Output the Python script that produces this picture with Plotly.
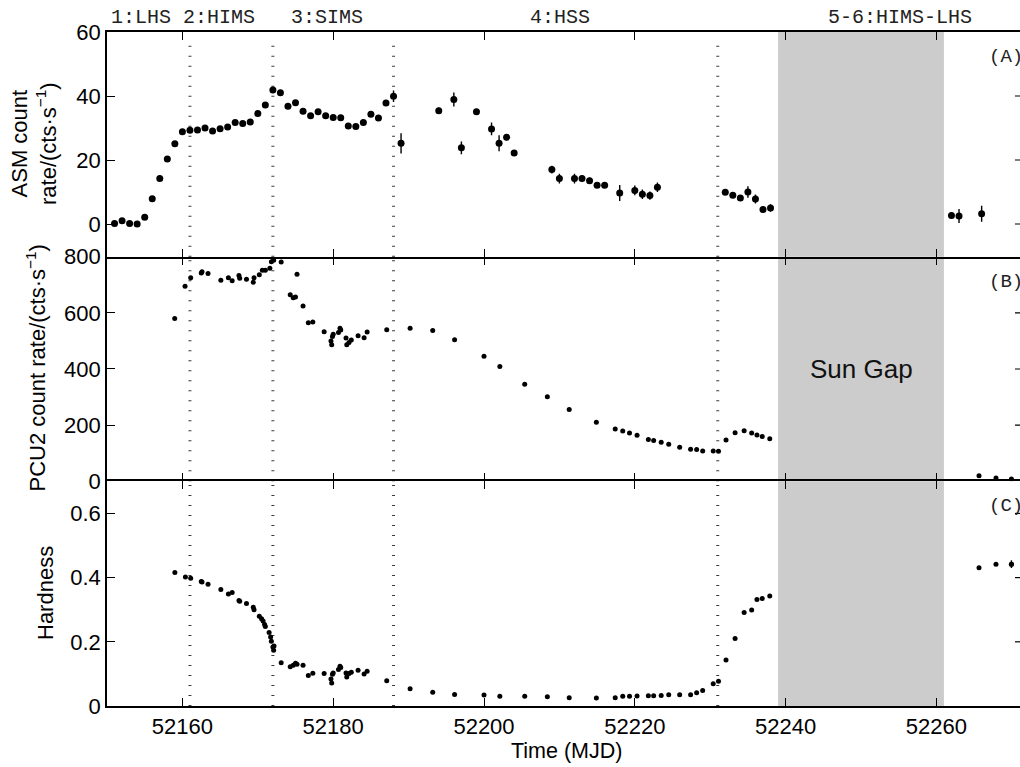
import plotly.graph_objects as go

# ---------------- data ----------------
transitions = [52161, 52172, 52188, 52231]
sun_gap = [52239, 52261]
state_labels = ["1:LHS", "2:HIMS", "3:SIMS", "4:HSS", "5-6:HIMS-LHS"]
x_ticks = [52160, 52180, 52200, 52220, 52240, 52260]

asm_mjd = [52151, 52152, 52153, 52154, 52155, 52156, 52157, 52158, 52159,
           52160, 52161, 52162, 52163, 52164, 52165, 52166, 52167, 52168, 52169,
           52170, 52171, 52172, 52173, 52174, 52175, 52176, 52177, 52178, 52179,
           52180, 52181, 52182, 52183, 52184, 52185, 52186, 52187, 52188, 52189,
           52194, 52196, 52197, 52199, 52201, 52202, 52203, 52204,
           52209, 52210, 52212, 52213, 52214, 52215, 52216,
           52218, 52220, 52221, 52222, 52223,
           52232, 52233, 52234, 52235, 52236, 52237, 52238,
           52262, 52263, 52266]
asm_rate = [0.2, 1.0, 0.2, 0.0, 2.1, 7.9, 14.2, 20.3, 25.1,
            28.8, 29.3, 29.4, 30.0, 29.1, 29.8, 30.3, 31.7, 31.4, 31.9,
            34.5, 37.2, 41.9, 41.0, 36.8, 37.9, 35.2, 33.8, 35.1, 33.8,
            33.3, 33.2, 30.6, 30.5, 31.7, 34.3, 33.1, 37.8, 39.9, 25.2,
            35.4, 38.9, 23.8, 35.1, 29.7, 25.2, 27.1, 22.2,
            17.0, 14.2, 14.2, 14.2, 13.5, 12.1, 12.1,
            9.7, 10.5, 9.3, 8.9, 11.5,
            9.9, 9.0, 8.1, 10.0, 7.8, 4.5, 5.0,
            2.7, 2.5, 3.2]
asm_err = [0.6, 0.6, 0.6, 0.6, 0.6, 0.7, 0.7, 0.7, 0.7,
           0.7, 0.7, 0.7, 0.7, 0.7, 0.7, 0.7, 0.7, 0.7, 0.7,
           0.7, 0.7, 0.8, 0.7, 0.7, 0.7, 0.7, 0.7, 0.7, 0.7,
           0.7, 0.7, 0.7, 0.7, 0.7, 0.8, 0.8, 0.8, 1.8, 3.2,
           1.0, 2.2, 2.0, 0.8, 2.0, 2.5, 1.0, 0.8,
           1.2, 1.5, 1.5, 1.0, 1.0, 0.8, 0.8,
           2.5, 1.5, 1.5, 1.3, 1.5,
           0.8, 0.8, 0.8, 1.8, 1.4, 1.0, 1.2,
           1.0, 2.2, 2.5]

pcu_mjd = [52158.98, 52160.35, 52161.1, 52162.5, 52162.6, 52163.4, 52165.1, 52166.1,
           52166.6, 52167.5, 52167.6, 52168.5, 52169.4, 52169.5, 52170.2, 52170.6,
           52171.0, 52171.6, 52171.8, 52172.1, 52173.1, 52174.3, 52174.7, 52175.0,
           52175.2, 52176.0, 52176.7, 52177.3, 52178.8, 52179.7, 52179.8, 52179.9,
           52180.0, 52180.7, 52180.9, 52181.0, 52181.7, 52181.8, 52182.1, 52182.4,
           52183.3, 52184.1, 52184.5, 52187.1, 52190.2, 52193.2, 52196.1, 52200.0,
           52202.1, 52205.4, 52208.4, 52211.3, 52214.9, 52217.4, 52218.4, 52219.3,
           52220.3, 52221.8, 52222.5, 52223.5, 52224.5, 52225.95, 52227.4, 52228.2,
           52229.0, 52230.4, 52231.1, 52232.1, 52233.3, 52234.5, 52235.5, 52236.2,
           52236.9, 52237.9, 52265.65, 52267.9, 52269.95]
pcu_rate = [580, 695, 725, 742, 746, 740, 716, 725,
            714, 733, 723, 720, 709, 725, 736, 752,
            752, 759, 782, 787, 781, 664, 654, 656,
            737, 624, 565, 567, 533, 500, 486, 516,
            524, 530, 545, 539, 510, 486, 494, 503,
            518, 511, 532, 540, 545, 537, 504, 445,
            409, 346, 301, 256, 210, 186, 179, 172,
            164, 149, 145, 139, 132, 121, 114, 113,
            108, 108, 107, 147, 173, 180, 172, 165,
            160, 152, 20, 12, 8]

hr_mjd = [52159.0, 52160.4, 52161.1, 52162.5, 52162.6, 52163.4, 52165.1, 52166.1,
          52166.6, 52167.5, 52167.6, 52168.5, 52169.4, 52169.5, 52170.2, 52170.5,
          52170.7, 52170.9, 52171.0, 52171.5, 52171.7, 52171.8, 52172.0, 52172.1,
          52172.15, 52173.1, 52174.3, 52174.7, 52175.0, 52175.2, 52176.0, 52176.7,
          52177.3, 52178.8, 52179.7, 52179.8, 52179.9, 52180.0, 52180.7, 52180.9,
          52181.0, 52181.7, 52181.8, 52182.1, 52182.4, 52183.3, 52184.1, 52184.5,
          52187.1, 52190.2, 52193.2, 52196.1, 52200.0, 52202.1, 52205.4, 52208.4,
          52211.3, 52214.9, 52217.4, 52218.4, 52219.3, 52220.3, 52221.8, 52222.5,
          52223.5, 52224.5, 52225.95, 52227.4, 52228.2, 52229.0, 52230.4, 52231.1,
          52232.1, 52233.3, 52234.5, 52235.5, 52236.2, 52236.9, 52237.9,
          52265.65, 52267.9, 52269.95]
hardness = [0.416, 0.402, 0.398, 0.388, 0.386, 0.379, 0.363, 0.349,
            0.354, 0.329, 0.326, 0.319, 0.308, 0.300, 0.280, 0.272,
            0.265, 0.254, 0.248, 0.229, 0.215, 0.202, 0.184, 0.174,
            0.187, 0.135, 0.122, 0.127, 0.133, 0.130, 0.127, 0.095,
            0.102, 0.101, 0.084, 0.072, 0.099, 0.103, 0.114, 0.124,
            0.120, 0.103, 0.090, 0.101, 0.105, 0.111, 0.100, 0.108,
            0.079, 0.054, 0.043, 0.036, 0.034, 0.030, 0.030, 0.029,
            0.026, 0.025, 0.026, 0.030, 0.030, 0.031, 0.032, 0.032,
            0.033, 0.035, 0.035, 0.035, 0.041, 0.048, 0.069, 0.077,
            0.143, 0.210, 0.291, 0.299, 0.332, 0.335, 0.343,
            0.431, 0.442, 0.442]
hr_err_mjd = [52269.95]
hr_err_val = [0.442]
hr_err = [0.012]

# ---------------- layout geometry ----------------
W, H = 1020, 767
L, R, T, B = 107, 0, 32, 61
PW = W - L - R
PH = H - T - B
PX_PER_DAY = 7.54
X0 = 52150.0
X1 = X0 + PW / PX_PER_DAY

SANS = "Liberation Sans, Arial, sans-serif"
MONO = "Liberation Mono, Courier New, monospace"

fig = go.Figure()

# Panel A (top): ASM
fig.add_trace(go.Scatter(
    x=asm_mjd, y=asm_rate, mode="markers",
    marker=dict(size=7, color="black"),
    error_y=dict(type="data", array=asm_err, thickness=1.4, width=0, color="black"),
    xaxis="x3", yaxis="y3", showlegend=False, hoverinfo="skip"))

# Panel B (middle): PCU2
fig.add_trace(go.Scatter(
    x=pcu_mjd, y=pcu_rate, mode="markers",
    marker=dict(size=5, color="black"),
    xaxis="x2", yaxis="y2", showlegend=False, hoverinfo="skip"))

# Panel C (bottom): hardness
fig.add_trace(go.Scatter(
    x=hr_mjd, y=hardness, mode="markers",
    marker=dict(size=5, color="black"),
    xaxis="x", yaxis="y", showlegend=False, hoverinfo="skip"))
fig.add_trace(go.Scatter(
    x=hr_err_mjd, y=hr_err_val, mode="markers",
    marker=dict(size=5, color="black"),
    error_y=dict(type="data", array=hr_err, thickness=1.4, width=0, color="black"),
    xaxis="x", yaxis="y", showlegend=False, hoverinfo="skip"))

xcommon = dict(range=[X0, X1], tickvals=x_ticks, tickformat="d", ticks="inside", ticklen=8,
               tickwidth=1.3, tickcolor="black", showline=True, linewidth=1.6,
               linecolor="black", mirror="ticks", showgrid=False, zeroline=False)
ycommon = dict(ticks="inside", ticklen=8, tickwidth=1.3, tickcolor="black",
               showline=True, linewidth=1.6, linecolor="black", mirror=False,
               showgrid=False, zeroline=False,
               tickfont=dict(family=SANS, size=22, color="black"),
               ticklabelstandoff=0)

d = 1.0 / 3.0
x2 = dict(xcommon)
x2["showline"] = False
fig.update_layout(
    width=W, height=H,
    margin=dict(l=L, r=R, t=T, b=B, pad=0),
    paper_bgcolor="white", plot_bgcolor="white",
    showlegend=False,
    xaxis=dict(**xcommon, anchor="y",
               tickfont=dict(family=SANS, size=22, color="black"),
               ticklabelstandoff=0),
    xaxis2=dict(**x2, anchor="y2", matches="x", showticklabels=False),
    xaxis3=dict(**xcommon, anchor="y3", matches="x", showticklabels=False),
    yaxis=dict(**ycommon, domain=[0, d], range=[0, 0.7],
               tickvals=[0, 0.2, 0.4, 0.6], ticktext=["0", "0.2", "0.4", "0.6"]),
    yaxis2=dict(**ycommon, domain=[d, 2 * d], range=[0, 800],
                tickvals=[0, 200, 400, 600, 800]),
    yaxis3=dict(**ycommon, domain=[2 * d, 1], range=[-10.2, 60],
                tickvals=[0, 20, 40, 60]),
)

# per-panel background shapes (sun gap + transition lines) and right-edge ticks
panels = [("x", "y", [0.2, 0.4, 0.6]),
          ("x2", "y2", [200, 400, 600]),
          ("x3", "y3", [0, 20, 40])]
right_tick_days = 5 / PX_PER_DAY
shapes = []
for xr, yr, rticks in panels:
    shapes.append(dict(type="rect", xref=xr, yref=yr + " domain", x0=sun_gap[0], x1=sun_gap[1],
                       y0=0, y1=1, fillcolor="#cccccc", line=dict(width=0), layer="below"))
    for t in transitions:
        shapes.append(dict(type="line", xref=xr, yref=yr + " domain", x0=t, x1=t,
                           y0=0.0, y1=1.0 if yr != "y3" else 0.96,
                           line=dict(color="#3a3a3a", width=3, dash="1px,9px"), layer="below"))
    for v in rticks:
        shapes.append(dict(type="line", xref=xr, yref=yr, x0=X1 - right_tick_days, x1=X1,
                           y0=v, y1=v, line=dict(color="black", width=1.2)))
fig.update_layout(shapes=shapes)


def px2paper_x(px):
    return (px - L) / PW


def py2paper_y(py):
    return 1 - (py - T) / PH


ann = []
label_px = [140.5, 219, 327, 560, 900]
for txt, px in zip(state_labels, label_px):
    ann.append(dict(text=txt, xref="paper", yref="paper", x=px2paper_x(px), y=1,
                    yshift=15, xanchor="center", yanchor="middle", showarrow=False,
                    font=dict(family=MONO, size=20, color="#222")))
for txt, py in zip(["(A)", "(B)", "(C)"], [57, 282, 506]):
    ann.append(dict(text=txt, xref="paper", yref="paper", x=px2paper_x(987), y=py2paper_y(py),
                    xanchor="left", yanchor="middle", showarrow=False,
                    font=dict(family=MONO, size=19, color="#222")))
ann.append(dict(text="Sun Gap", xref="x2", yref="paper", x=(sun_gap[0] + sun_gap[1]) / 2,
                y=0.5, xanchor="center", yanchor="middle", showarrow=False,
                font=dict(family=SANS, size=26, color="#111")))
ann.append(dict(text="ASM count<br>rate/(cts\u00b7s<sup>\u22121</sup>)", xref="paper", yref="paper",
                x=0, xshift=34 - L, y=py2paper_y(144), xanchor="center", yanchor="middle",
                textangle=-90, showarrow=False, font=dict(family=SANS, size=22, color="black")))
ann.append(dict(text="PCU2 count rate/(cts\u00b7s<sup>\u22121</sup>)", xref="paper", yref="paper",
                x=0, xshift=36 - L, y=py2paper_y(368.5), xanchor="center", yanchor="middle",
                textangle=-90, showarrow=False, font=dict(family=SANS, size=22, color="black")))
ann.append(dict(text="Hardness", xref="paper", yref="paper",
                x=0, xshift=45 - L, y=py2paper_y(593), xanchor="center", yanchor="middle",
                textangle=-90, showarrow=False, font=dict(family=SANS, size=22, color="black")))
ann.append(dict(text="Time (MJD)", xref="paper", yref="paper",
                x=px2paper_x(566.5), y=0, yshift=-45, xanchor="center", yanchor="middle",
                showarrow=False, font=dict(family=SANS, size=21.5, color="black")))
fig.update_layout(annotations=ann)

fig.write_html("out.html")
